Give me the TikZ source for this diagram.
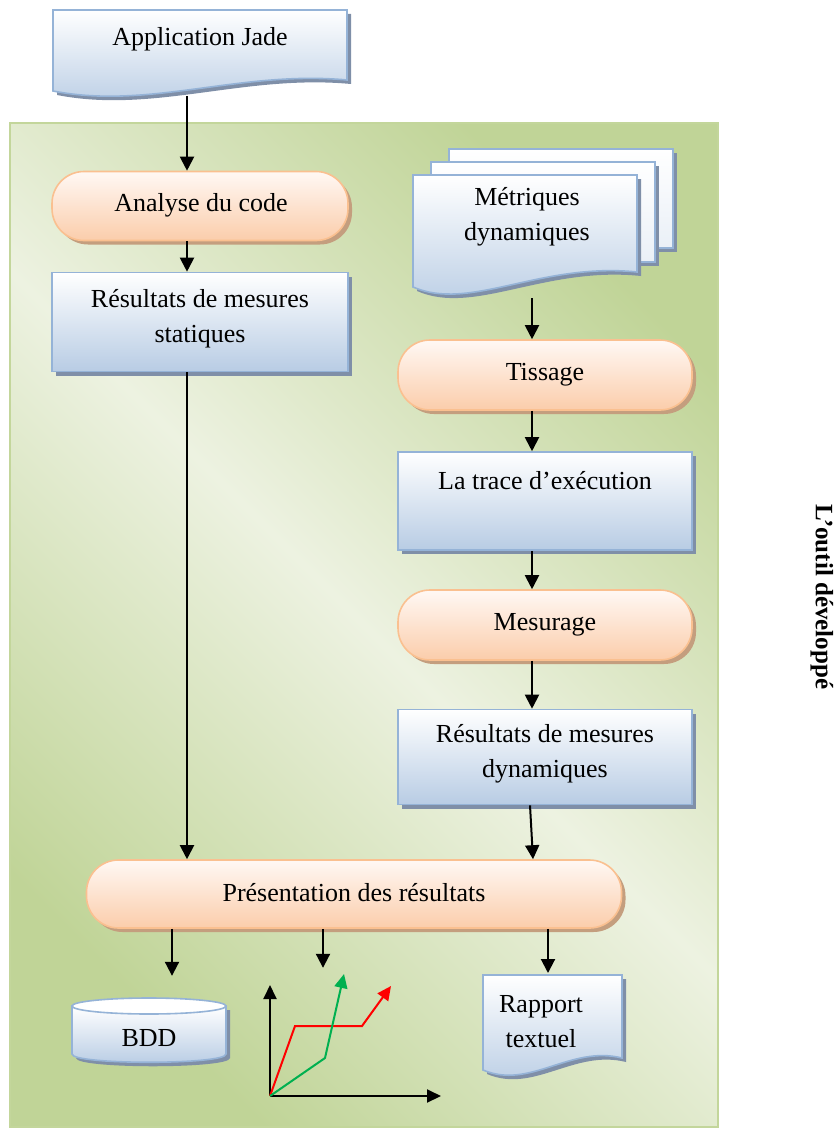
\documentclass[tikz,border=0pt]{standalone}
\usepackage{fontspec}
\setmainfont{Liberation Serif}
\usetikzlibrary{shadows,arrows.meta,calc}
\definecolor{boxborder}{HTML}{95B3D7}
\definecolor{boxbot}{HTML}{B8CCE4}
\definecolor{boxshadow}{HTML}{7F8FA8}
\definecolor{orborder}{HTML}{FAC090}
\definecolor{ortop}{HTML}{FFF8F4}
\definecolor{orbot}{HTML}{FBCDAB}
\definecolor{orshadow}{HTML}{C49E7E}
\definecolor{gdark}{HTML}{C0D497}
\definecolor{glight}{HTML}{EDF2E1}
\definecolor{gborder}{HTML}{C3D69B}
\definecolor{redline}{HTML}{FF0000}
\definecolor{greenline}{HTML}{00B050}
\tikzset{
  txt/.style={font=\fontsize{26}{35}\selectfont, align=center, inner sep=0pt},
  bluebox/.style={draw=boxborder, line width=1.6pt, top color=white, bottom color=boxbot,
     drop shadow={shadow xshift=4pt, shadow yshift=-4pt, fill=boxshadow, opacity=1}},
  orbox/.style={draw=orborder, line width=1.6pt, rounded corners=32pt, top color=ortop, bottom color=orbot,
     drop shadow={shadow xshift=4pt, shadow yshift=-4pt, fill=orshadow, opacity=1}},
  sheet/.style={draw=boxborder, line width=1.6pt, top color=white, bottom color=white!70!boxbot,
     drop shadow={shadow xshift=4pt, shadow yshift=-4pt, fill=boxshadow, opacity=1}},
  arr/.style={line width=2pt, -{Triangle[width=14pt,length=14pt]}},
  redarr/.style={line width=2pt, draw=redline, -{Triangle[width=13pt,length=14pt]}},
  greenarr/.style={line width=2pt, draw=greenline, -{Triangle[width=13pt,length=14pt]}},
  axis/.style={line width=2pt, -{Triangle[width=13pt,length=14pt]}},
}
\begin{document}
\begin{tikzpicture}[x=1pt,y=-1pt]
\useasboundingbox (0,0) rectangle (839,1129);
% container
\path[draw=gborder, line width=2pt, left color=gdark, right color=gdark, middle color=glight, shading angle=135]
  (10,123) rectangle (718,1127);
\node[txt, font=\fontsize{25}{30}\selectfont\bfseries, rotate=-90] (outil) at (822,597) {L’outil développé};

% Application Jade (document)
\path[bluebox] (53,10) -- (347,10) -- (347,80) .. controls (240,70) and (150,110) .. (53,91) -- cycle;
\node[txt] (app) at (200,39) {Application Jade};
\coordinate (appb) at (187,96);

% Analyse du code
\node[orbox, minimum width=296pt, minimum height=69pt] (analyse) at (200,206) {};
\node[txt] (analyset) at (201,205) {Analyse du code};

% Resultats statiques
\node[bluebox, minimum width=296pt, minimum height=99pt] (stat) at (200,322) {};
\node[txt] (statt) at (200,319) {Résultats de mesures\\statiques};

% Metriques dynamiques (multi document)
\path[sheet] (449,149) rectangle (673,248);
\path[sheet] (431,162) rectangle (655,262);
\path[bluebox] (413,175) -- (637,175) -- (637,272) .. controls (540,262) and (470,312) .. (413,287) -- cycle;
\node[txt] (met) at (527,217) {Métriques\\dynamiques};
\coordinate (metb) at (532,298);

% Tissage
\node[orbox, minimum width=294pt, minimum height=70pt] (tissage) at (545,375) {};
\node[txt] (tissaget) at (545,375) {Tissage};

% Trace
\node[bluebox, minimum width=294pt, minimum height=98pt] (trace) at (545,501) {};
\node[txt] (tracet) at (545,481) {La trace d’exécution};

% Mesurage
\node[orbox, minimum width=294pt, minimum height=70pt] (mes) at (545,625) {};
\node[txt] (mest) at (545,625) {Mesurage};

% Resultats dynamiques
\node[bluebox, minimum width=294pt, minimum height=95pt] (dyn) at (545,757) {};
\node[txt] (dynt) at (545,754) {Résultats de mesures\\dynamiques};

% Presentation
\node[orbox, minimum width=535pt, minimum height=68pt] (pres) at (354,894) {};
\node[txt] (prest) at (354,893) {Présentation des résultats};

% BDD cylinder
\path[bluebox] (72,1006) -- (72,1054) .. controls (72,1065) and (226,1065) .. (226,1054) -- (226,1006) -- cycle;
\path[draw=boxborder, line width=1.6pt, fill=white] (149,1006) ellipse [x radius=77, y radius=8];
\node[txt] (bdd) at (149,1038) {BDD};

% Rapport textuel
\path[bluebox] (483,975) -- (622,975) -- (622,1058) .. controls (570,1045) and (530,1090) .. (483,1070) -- cycle;
\node[txt] (rap) at (541,1022) {Rapport\\textuel};
\coordinate (rapn) at (548,973);

% Chart
\coordinate (o) at (270,1096);
\coordinate (ytip) at (270,985);
\coordinate (xtip) at (441,1096);
\coordinate (r1) at (295,1026);
\coordinate (r2) at (362,1026);
\coordinate (rtip) at (391,986);
\coordinate (g1) at (325,1058);
\coordinate (gtip) at (344,974);
\draw[axis] (o) -- (ytip);
\draw[axis] (o) -- (xtip);
\draw[redarr, line join=miter] (o) -- (r1) -- (r2) -- (rtip);
\draw[greenarr] (o) -- (g1) -- (gtip);

% connectors
\draw[arr] (appb) -- (appb |- analyse.north);
\draw[arr] (appb |- analyse.south) -- (appb |- stat.north);
\draw[arr] (appb |- stat.south) -- (appb |- pres.north);
\draw[arr] (metb) -- (metb |- tissage.north);
\draw[arr] (metb |- tissage.south) -- (metb |- trace.north);
\draw[arr] (metb |- trace.south) -- (metb |- mes.north);
\draw[arr] (metb |- mes.south) -- (metb |- dyn.north);
\draw[arr] ($(dyn.south)+(-15,0)$) -- ($(pres.north)+(179,0)$);
\draw[arr] ($(pres.south)+(-182,0)$) -- ($(pres.south)+(-182,47)$);
\draw[arr] ($(pres.south)+(-31,0)$) -- ($(pres.south)+(-31,39)$);
\draw[arr] (rapn |- pres.south) -- (rapn);
\end{tikzpicture}
\end{document}
